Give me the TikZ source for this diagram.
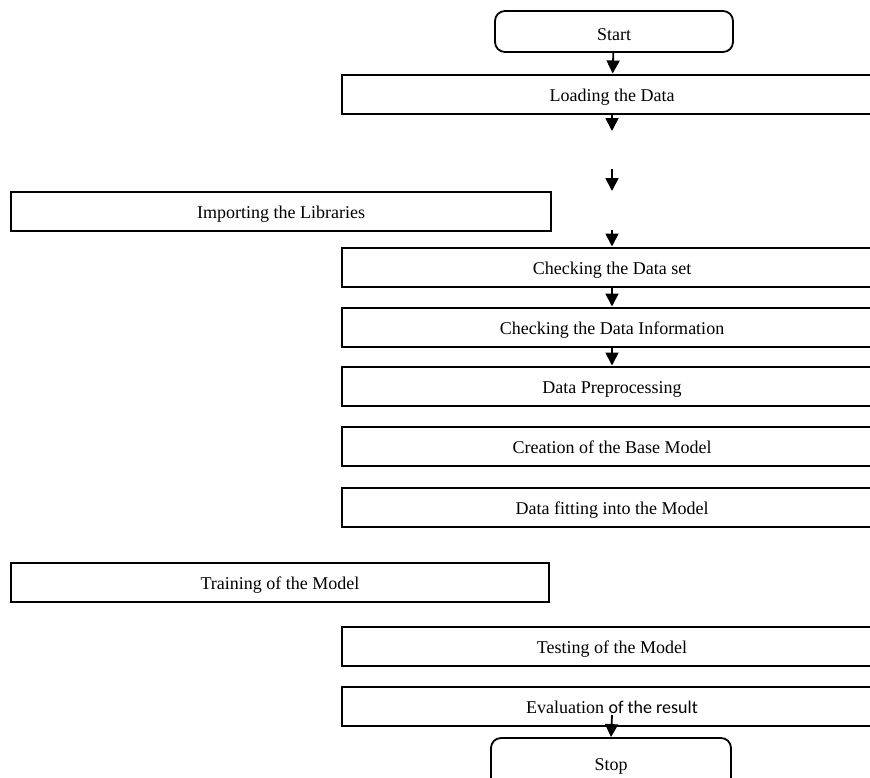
\documentclass[tikz,border=0pt]{standalone}
\usepackage{fontspec}
\setmainfont{Liberation Serif}
\newfontfamily\calfont{Carlito}
\usetikzlibrary{arrows.meta}
\begin{document}
\begin{tikzpicture}[x=1pt,y=-1pt,
  every node/.style={font=\fontsize{18}{21}\selectfont},
  procbox/.style={draw,line width=2pt,minimum width=540pt,minimum height=39pt,inner sep=0pt,text height=14pt,text depth=0pt},
  termbox/.style={draw,line width=1.8pt,rounded corners=10pt,minimum width=238pt,minimum height=41pt,inner sep=0pt,text depth=0pt},
  flow/.style={-{Triangle[width=13pt,length=13pt]},line width=1.8pt}]
  \useasboundingbox (0,0) rectangle (870,777);
  \clip (0,0) rectangle (870,777);
  \node[termbox,text height=17pt] (start) at (614,31.5) {Start};
  \node[procbox] (load) at (612,94) {Loading the Data};
  \node[procbox] (libs) at (281,211) {Importing the Libraries};
  \node[procbox] (dset) at (612,267) {Checking the Data set};
  \node[procbox] (dinfo) at (612,327) {Checking the Data Information};
  \node[procbox] (prep) at (612,386) {Data Preprocessing};
  \node[procbox] (base) at (612,446.5) {Creation of the Base Model};
  \node[procbox] (fit) at (612,507) {Data fitting into the Model};
  \node[procbox,minimum width=538pt] (train) at (280,582) {Training of the Model};
  \node[procbox] (test) at (612,646) {Testing of the Model};
  \node[procbox] (eval) at (612,706.5) {Evaluation {\calfont of the result}};
  \node[termbox,text height=14pt,minimum width=240pt,minimum height=50pt] (stop) at (611,763) {Stop};
  \coordinate (loadend) at (612,131);
  \coordinate (gapa) at (612,169);
  \coordinate (gapb) at (612,191);
  \coordinate (dsetin) at (612,230);
  \coordinate (evalout) at (612,715);
  \draw[flow] (start) -- (load);
  \draw[flow] (load.south) -- (loadend);
  \draw[flow] (gapa) -- (gapb);
  \draw[flow] (dsetin) -- (dset.north);
  \draw[flow] (dset) -- (dinfo);
  \draw[flow] (dinfo) -- (prep);
  \draw[flow] (evalout) -- (stop.north);
\end{tikzpicture}
\end{document}
